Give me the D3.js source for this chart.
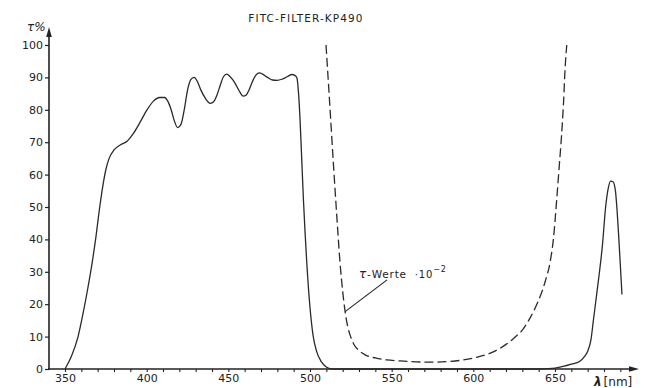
<!DOCTYPE html>
<html>
<head>
<meta charset="utf-8">
<script src="https://cdn.jsdelivr.net/npm/d3@7"></script>
<style>
  html, body { margin: 0; padding: 0; background: #fff; }
  svg { display: block; }
  text { font-family: "DejaVu Sans", "Liberation Sans", sans-serif; fill: #222; }
</style>
</head>
<body>
<svg id="chart" width="652" height="388"></svg>
<script>
// ---- data ----
const title = "FITC-FILTER-KP490";
const yTicks = [0, 10, 20, 30, 40, 50, 60, 70, 80, 90, 100];
const xLabelTicks = [350, 400, 450, 500, 550, 600, 650];
const xMinorTicks = [350, 360, 370, 380, 390, 400, 410, 420, 430, 440, 450, 460, 470, 480, 490, 500, 510, 520, 530, 540, 550, 560, 570, 580, 590, 600, 610, 620, 630, 640, 650, 660, 670, 680, 690];

// solid curve: transmission tau % vs wavelength nm
const solidWl = [350, 354, 358, 361, 364, 367, 369, 371, 373, 375, 377, 380, 384, 388, 392, 396, 400, 404, 408, 411, 413, 415, 417, 419, 421, 423, 425, 427, 429, 431, 433, 436, 439, 441, 443, 445, 447, 449, 451, 454, 457, 459, 461, 463, 465, 467, 469, 471, 474, 477, 480, 483, 486, 489, 490.5, 492, 493, 494, 495, 496, 497, 498, 500, 502, 504, 507, 510, 513, 560, 620, 640, 645, 650, 655, 660, 665, 668, 670, 672, 673.5, 675, 677, 679, 681, 682.5, 684, 685.5, 687, 688, 689, 690, 691];
const solidTau = [0, 4, 10, 17, 25, 34, 41, 49, 56, 61.5, 65, 67.6, 69.2, 70.3, 72.8, 76.2, 79.8, 82.6, 83.8, 83.8, 82.6, 80, 76.5, 74.5, 75.5, 80, 86, 89.3, 90, 88.8, 86.3, 83.5, 82, 82.5, 84.5, 87.5, 90.2, 91, 90.3, 88.3, 85.5, 84.2, 84.6, 86.5, 89, 90.8, 91.4, 91, 90, 89.2, 89.1, 89.5, 90.2, 90.9, 90.7, 89.8, 85, 76, 64, 52, 42, 33, 19, 10, 5.5, 2.2, 0.6, 0, 0, 0, 0, 0.1, 0.3, 0.8, 1.5, 2.3, 3.8, 5.5, 9, 15, 21, 29, 38, 50, 55.5, 58, 57.8, 55, 49, 41, 32, 23];

// dashed curve: tau values x 10^-2
const dashWl = [509.8, 512, 514.3, 516.3, 518.4, 520, 521.5, 523, 525, 527, 530, 534, 540, 547, 555, 565, 575, 585, 594, 602, 610, 615, 620, 625, 630, 635, 638, 641, 644, 647, 649, 651, 652.5, 654, 655.2, 656.2, 657.2];
const dashTau = [100, 82.5, 63.6, 48, 32.7, 24, 17.7, 13.3, 9.8, 7.5, 5.7, 4.3, 3.4, 2.8, 2.5, 2.2, 2.1, 2.3, 2.8, 3.6, 4.8, 6, 7.6, 9.6, 12, 16, 19, 22.5, 27, 33, 40, 52, 62, 72, 82, 93, 100];

// annotation: leader line from curve point to label
const annotText = "\u03C4-Werte";
const annotFrom = [521.5, 17.7];
const annotTo = [547.2, 27.5];

// ---- drawing ----
const svg = d3.select("#chart");
const ink = "#222";

const x = d3.scaleLinear().domain([350, 650]).range([65, 555]);
const y = d3.scaleLinear().domain([0, 100]).range([369, 45]);
const axisX0 = 49;   // y-axis position (px)
const axisY0 = y(0);

// title
svg.append("text")
  .attr("x", 306).attr("y", 22)
  .attr("text-anchor", "middle")
  .attr("font-size", 10.5)
  .attr("letter-spacing", 1.1)
  .text(title);

// y axis
const yAxis = d3.axisLeft(y).tickValues(yTicks).tickSize(4).tickPadding(2);
const gy = svg.append("g").attr("transform", `translate(${axisX0},0)`).call(yAxis);
gy.select(".domain").remove();
gy.selectAll(".tick line").attr("stroke", ink).attr("stroke-width", 1.2);
gy.selectAll(".tick text").attr("font-size", 11).attr("fill", ink).attr("font-family", "DejaVu Sans, sans-serif");

svg.append("line")
  .attr("x1", axisX0).attr("y1", axisY0 + 1)
  .attr("x2", axisX0).attr("y2", 32)
  .attr("stroke", ink).attr("stroke-width", 1.6);
svg.append("path")
  .attr("d", `M${axisX0},27 L${axisX0 - 2.8},37 L${axisX0 + 2.8},37 Z`)
  .attr("fill", ink);

// y axis label tau %
svg.append("text")
  .attr("x", 27).attr("y", 31)
  .attr("font-size", 12)
  .attr("font-style", "italic")
  .text("\u03C4%");

// x axis
const xAxisMinor = d3.axisBottom(x).tickValues(xMinorTicks).tickSize(3).tickFormat("");
const gxm = svg.append("g").attr("transform", `translate(0,${axisY0})`).call(xAxisMinor);
gxm.select(".domain").remove();
gxm.selectAll(".tick line").attr("stroke", ink).attr("stroke-width", 1.1);

const xAxis = d3.axisBottom(x).tickValues(xLabelTicks).tickSize(0).tickPadding(5);
const gx = svg.append("g").attr("transform", `translate(0,${axisY0})`).call(xAxis);
gx.select(".domain").remove();
gx.selectAll(".tick text").attr("font-size", 11).attr("fill", ink).attr("font-family", "DejaVu Sans, sans-serif");

svg.append("line")
  .attr("x1", axisX0 - 1).attr("y1", axisY0)
  .attr("x2", 634).attr("y2", axisY0)
  .attr("stroke", ink).attr("stroke-width", 1.6);
svg.append("path")
  .attr("d", `M639,${axisY0} L629,${axisY0 - 2.8} L629,${axisY0 + 2.8} Z`)
  .attr("fill", ink);

// x axis label lambda [nm]
const xl = svg.append("text")
  .attr("x", 594).attr("y", 386)
  .attr("font-size", 12);
xl.append("tspan").attr("font-style", "italic").attr("font-weight", "bold").text("\u03BB");
xl.append("tspan").attr("dx", 2).text("[nm]");

// curves
const line = d3.line()
  .x(d => x(d[0]))
  .y(d => y(d[1]))
  .curve(d3.curveMonotoneX);

svg.append("path")
  .datum(solidWl.map((w, i) => [w, solidTau[i]]))
  .attr("d", line)
  .attr("fill", "none")
  .attr("stroke", "#2a2a2a")
  .attr("stroke-width", 1.3);

svg.append("path")
  .datum(dashWl.map((w, i) => [w, dashTau[i]]))
  .attr("d", line)
  .attr("fill", "none")
  .attr("stroke", "#2a2a2a")
  .attr("stroke-width", 1.3)
  .attr("stroke-dasharray", "9,4");

// annotation
svg.append("line")
  .attr("x1", x(annotFrom[0])).attr("y1", y(annotFrom[1]))
  .attr("x2", x(annotTo[0])).attr("y2", y(annotTo[1]))
  .attr("stroke", ink).attr("stroke-width", 1.1);

const at = svg.append("text")
  .attr("x", x(annotTo[0]) - 28).attr("y", y(annotTo[1]) - 2)
  .attr("font-size", 10.5)
  .attr("letter-spacing", 0.8);
at.append("tspan").attr("font-style", "italic").attr("font-size", 12).text("\u03C4");
at.append("tspan").text("-Werte");
at.append("tspan").attr("dx", 8).attr("font-size", 10).text("\u00B710");
at.append("tspan").attr("dy", -6).attr("font-size", 8).text("\u22122");
</script>
</body>
</html>
